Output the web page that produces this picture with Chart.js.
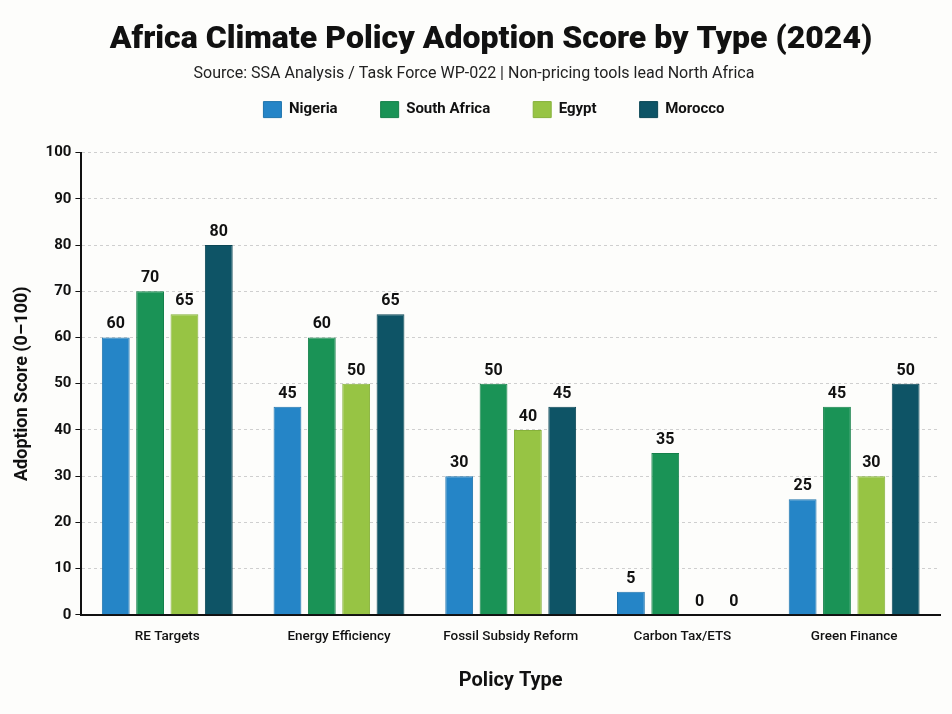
<!DOCTYPE html>
<html>
<head>
<meta charset="utf-8">
<script src="https://cdn.jsdelivr.net/npm/chart.js@4.4.1/dist/chart.umd.min.js"></script>
<style>
  html, body { margin: 0; padding: 0; background: #fdfdfb; }
  #wrap { width: 952px; height: 714px; position: relative; }
</style>
</head>
<body>
<div id="wrap"><canvas id="myChart" width="952" height="714"></canvas></div>
<script>
const categories = ['RE Targets', 'Energy Efficiency', 'Fossil Subsidy Reform', 'Carbon Tax/ETS', 'Green Finance'];
const nigeria = [60, 45, 30, 5, 25];
const southAfrica = [70, 60, 50, 35, 45];
const egypt = [65, 50, 40, 0, 30];
const morocco = [80, 65, 45, 0, 50];
const yTicks = [0, 10, 20, 30, 40, 50, 60, 70, 80, 90, 100];

const FONT = 'Roboto, "Liberation Sans", sans-serif';

// draws the value over each bar
const barLabels = {
    id: 'barLabels',
    afterDatasetsDraw(chart) {
        const ctx = chart.ctx;
        ctx.save();
        ctx.font = 'bold 16px ' + FONT;
        ctx.fillStyle = '#111';
        ctx.textAlign = 'center';
        ctx.textBaseline = 'bottom';
        chart.data.datasets.forEach((ds, i) => {
            chart.getDatasetMeta(i).data.forEach((bar, j) => {
                ctx.fillText(ds.data[j], bar.x, bar.y - 5);
            });
        });
        ctx.restore();
    }
};

// nudge a box when drawing (legend padding is big for the wide item gaps)
function shiftDraw(box, dx, dy) {
    if (!box || box._shifted) return;
    const draw = box.draw;
    box.draw = function () {
        this.ctx.save();
        this.ctx.translate(dx, dy);
        draw.apply(this, arguments);
        this.ctx.restore();
    };
    box._shifted = true;
}

const boxShift = {
    id: 'boxShift',
    beforeUpdate(chart) {
        shiftDraw(chart.legend, 20, -25);
        shiftDraw(chart.titleBlock, 17, 0);
    }
};

const ctx = document.getElementById('myChart').getContext('2d');

var graphData = {
    type: 'bar',
    data: {
        labels: categories,
        datasets: [
            { label: 'Nigeria', data: nigeria, backgroundColor: '#2585c7', borderColor: '#1f74ad' },
            { label: 'South Africa', data: southAfrica, backgroundColor: '#1a9356', borderColor: '#15804a' },
            { label: 'Egypt', data: egypt, backgroundColor: '#97c444', borderColor: '#86b13a' },
            { label: 'Morocco', data: morocco, backgroundColor: '#0e5466', borderColor: '#0b4655' }
        ]
    },
    options: {
        responsive: false,
        animation: false,
        layout: { padding: { left: 8, right: 12, top: 12, bottom: 17 } },
        datasets: { bar: { barPercentage: 0.81, categoryPercentage: 0.8, borderWidth: 1 } },
        plugins: {
            title: {
                display: true,
                text: 'Africa Climate Policy Adoption Score by Type (2024)',
                color: '#111',
                font: { family: FONT, size: 32, weight: '900' },
                padding: { top: 9, bottom: 5 }
            },
            subtitle: {
                display: true,
                text: 'Source: SSA Analysis / Task Force WP-022 | Non-pricing tools lead North Africa',
                color: '#222',
                font: { family: FONT, size: 16 },
                padding: { top: 0, bottom: 0 }
            },
            legend: {
                position: 'top',
                labels: {
                    color: '#111',
                    font: { family: FONT, size: 15, weight: 'bold' },
                    boxWidth: 18,
                    boxHeight: 16,
                    padding: 43
                }
            },
            tooltip: { enabled: false }
        },
        scales: {
            x: {
                grid: { display: false },
                border: { display: true, color: '#111', width: 2 },
                ticks: { color: '#111', font: { family: FONT, size: 13.5, weight: '500' }, padding: 6 },
                title: {
                    display: true,
                    text: 'Policy Type',
                    color: '#111',
                    font: { family: FONT, size: 20, weight: 'bold' },
                    padding: { top: 18 }
                }
            },
            y: {
                min: 0,
                max: 100,
                afterBuildTicks(axis) { axis.ticks = yTicks.map(v => ({ value: v })); },
                grid: {
                    color: '#cfcfcf',
                    tickColor: '#111',
                    tickLength: 6,
                    drawTicks: true
                },
                border: { display: true, color: '#111', width: 2, dash: [3, 3] },
                ticks: { color: '#111', font: { family: FONT, size: 15, weight: 'bold' }, padding: 4 },
                title: {
                    display: true,
                    text: 'Adoption Score (0–100)',
                    color: '#111',
                    font: { family: FONT, size: 18, weight: 'bold' },
                    padding: { bottom: 8 }
                }
            }
        }
    },
    plugins: [barLabels, boxShift]
};

const myChart = new Chart(ctx, graphData);
</script>
</body>
</html>
